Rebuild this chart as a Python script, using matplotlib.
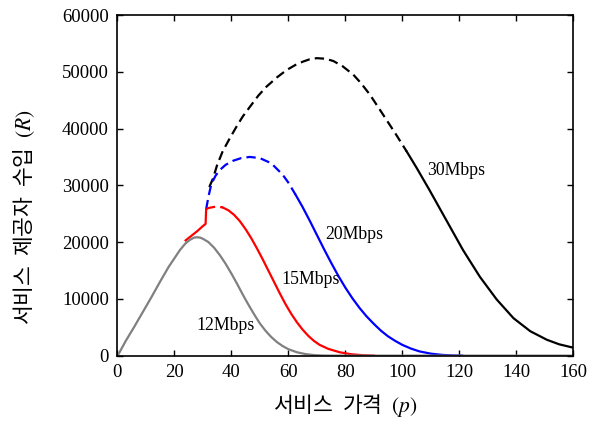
import matplotlib
matplotlib.use("Agg")
import matplotlib.pyplot as plt

plt.rcParams['font.family'] = ['Liberation Serif', 'DejaVu Serif']
plt.rcParams['mathtext.fontset'] = 'stix'

# 12Mbps (gray)
p12 = [0.5, 3, 6, 9, 12, 15, 18, 20, 22, 24, 25.5, 27, 28, 29, 30, 32, 34, 36, 38, 40, 42, 44, 46, 48, 50, 52, 54, 56, 58, 60, 63, 66, 69, 72, 75, 100, 130, 160]
r12 = [300, 2600, 5100, 7700, 10300, 13000, 15600, 17100, 18600, 19800, 20400, 20800, 20850, 20800, 20600, 20000, 19000, 17700, 16200, 14500, 12700, 10800, 9000, 7300, 5700, 4400, 3300, 2400, 1700, 1150, 600, 280, 100, 20, 0, 0, 0, 0]

# 15Mbps (red)
p15 = [24, 26, 28, 30, 31, 31.2, 32, 34, 35.5, 37, 39, 41, 43, 45, 47, 49, 51, 53, 55, 57, 59, 61, 63, 65, 67, 69, 71, 74, 78, 82, 86, 90]
r15 = [20300, 21100, 21900, 22800, 23200, 25800, 26000, 26200, 26250, 26100, 25600, 24800, 23700, 22300, 20700, 18900, 17000, 15000, 13000, 11000, 9100, 7400, 5900, 4600, 3500, 2600, 1900, 1200, 600, 250, 80, 0]
dash15 = (5, 9)   # index range drawn dashed

# 20Mbps (blue)
p20 = [31.2, 32, 33, 34.5, 36, 38, 40.5, 43.5, 46.5, 50, 54, 58, 60, 62.5, 65, 67.5, 70, 72.5, 75, 77.5, 80, 82.5, 85, 87.5, 90, 92.5, 95, 97.5, 100, 103, 106, 110, 114, 118, 121]
r20 = [25800, 28000, 30200, 31700, 32700, 33600, 34300, 34800, 35000, 34800, 33900, 31900, 30500, 28400, 26200, 23800, 21300, 18800, 16400, 14100, 12000, 10100, 8400, 6900, 5600, 4400, 3400, 2600, 1900, 1250, 750, 350, 130, 30, 0]
dash20 = (0, 13)

# 30Mbps (black)
p30 = [32.3, 33.6, 35, 37, 39.5, 41.8, 44, 46.5, 49.5, 52.4, 56, 59.4, 62.5, 65.2, 67.5, 70, 73, 75.8, 79, 82.8, 85.5, 88.6, 91.5, 94.5, 98, 101.5, 105, 109.5, 115.4, 121.3, 127.2, 133.1, 139, 144.9, 150.7, 155, 160]
r30 = [29700, 31200, 33500, 36000, 38300, 40300, 42100, 43800, 45800, 47400, 49000, 50300, 51200, 51800, 52200, 52400, 52300, 51900, 51000, 49500, 48000, 46000, 43800, 41500, 38800, 36000, 33100, 29200, 23900, 18600, 13900, 9900, 6600, 4300, 2800, 2000, 1400]
dash30 = (0, 25)

labels = ['12Mbps', '15Mbps', '20Mbps', '30Mbps']
label_x = [27.9, 57.7, 72.9, 108.6]
label_y = [5230, 13450, 21380, 32580]

fig = plt.figure(figsize=(5.95, 4.29), dpi=100)
ax = fig.add_axes([0.197, 0.171, 0.7666, 0.794])

lw = 1.6
dash = (0, (4.2, 2.3))


def draw(p, r, color, dr=None):
    if dr is None:
        ax.plot(p, r, color=color, lw=lw)
        return
    a, b = dr
    if a > 0:
        ax.plot(p[:a + 1], r[:a + 1], color=color, lw=lw)
    ax.plot(p[a:b + 1], r[a:b + 1], color=color, lw=lw, linestyle=dash)
    ax.plot(p[b:], r[b:], color=color, lw=lw)


draw(p30, r30, 'black', dash30)
draw(p20, r20, 'blue', dash20)
draw(p15, r15, 'red', dash15)
draw(p12, r12, '#808080')

for t, x, y in zip(labels, label_x, label_y):
    ax.text(x, y, t, fontsize=12.8, ha='left', va='center')

ax.set_xlim(0, 160)
ax.set_ylim(0, 60000)
ax.set_xticks(range(0, 161, 20))
ax.set_yticks(range(0, 60001, 10000))
ax.tick_params(direction='in', top=True, right=True, length=4, width=1, labelsize=13.5, pad=6)
for s in ax.spines.values():
    s.set_linewidth(1.2)

kr = ['Noto Sans CJK KR', 'DejaVu Sans']
ax.set_xlabel('서비스  가격  $(p)$', family=kr, fontsize=15.5, labelpad=8)
ax.set_ylabel('서비스  제공자  수입  $(R)$', family=kr, fontsize=15.5)
ax.yaxis.set_label_coords(-0.176, 0.407)

fig.savefig('out.png', dpi=100)
